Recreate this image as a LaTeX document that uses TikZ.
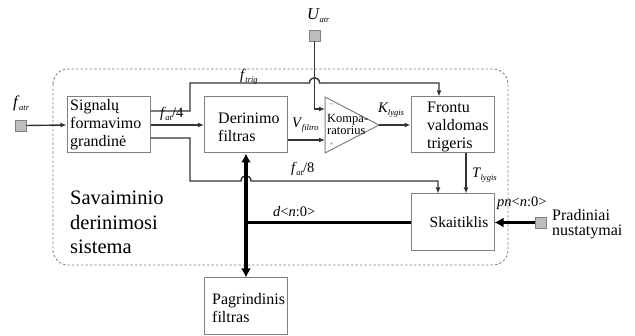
\documentclass[tikz,border=0pt]{standalone}
\usepackage{fontspec}
\setmainfont{Liberation Serif}
\usetikzlibrary{arrows.meta}
\definecolor{ln}{HTML}{333333}
\definecolor{bx}{HTML}{808080}
\definecolor{sq}{HTML}{BDBDBD}
\newcommand\sbs[2]{\textit{#1}\kern-0.5pt\raisebox{-3pt}{\fontsize{8.5}{8.5}\selectfont\textit{#2}}}
\begin{document}
\begin{tikzpicture}[x=1pt,y=-1pt,
  box/.style={draw=bx, line width=1pt, fill=white, minimum width=83pt, minimum height=56pt, inner sep=0pt},
  btxt/.style={inner sep=0pt, align=left, font=\fontsize{16}{18}\selectfont, anchor=west},
  sqr/.style={draw=bx, fill=sq, minimum size=11pt, inner sep=0pt, line width=0.8pt},
  wire/.style={draw=ln, line width=1.4pt},
  arr/.style={-{Latex[length=6pt,width=5pt]}},
  bus/.style={draw=black, line width=3.5pt},
  lab/.style={inner sep=0pt, font=\fontsize{14.5}{14.5}\selectfont, anchor=base west}]
\useasboundingbox (0,0) rectangle (635,336);
% frame
\draw[bx, dash pattern=on 2.5pt off 2pt, line width=0.9pt, rounded corners=15pt] (53,69) rectangle (508,265);
% boxes
\node[box] (sig) at (108.5,125) {};
\node[btxt] (sigt) at (70,125) {Signalų\\formavimo\\grandinė};
\node[box] (der) at (246,125) {};
\node[btxt] (dert) at (218,127) {Derinimo\\filtras};
\node[box] (fro) at (452.5,125) {};
\node[btxt] (frot) at (427,127) {Frontu\\valdomas\\trigeris};
\node[box, minimum height=57pt] (ska) at (452.5,222.5) {};
\node[inner sep=0pt, font=\fontsize{15.5}{18}\selectfont] (skat) at (459,222) {Skaitiklis};
\node[box, minimum height=57pt] (pag) at (246,306.5) {};
\node[btxt] (pagt) at (212,308) {Pagrindinis\\filtras};
% comparator
\coordinate (cA) at (325,97);
\coordinate (cB) at (325,153);
\coordinate (cT) at (379,125);
\coordinate (cminus) at (325,109);
\coordinate (cplus) at (325,140);
\draw[bx, line width=1pt, fill=white] (cA) -- (cT) -- (cB) -- cycle;
\node[inner sep=0pt, font=\fontsize{9}{9}\selectfont, text=bx] (mn) at (331.5,105) {–};
\node[inner sep=0pt, font=\fontsize{8}{8}\selectfont, text=bx] (pl) at (331.5,144) {+};
\node[inner sep=0pt, align=left, font=\fontsize{12.5}{11.5}\selectfont, anchor=west] (cmt) at (327,124.5) {Kompa-\\ratorius};
% squares
\node[sqr] (fin) at (20.5,125.5) {};
\node[sqr] (uin) at (314.5,35.5) {};
\node[sqr] (pin) at (540.5,222.5) {};
% connectors
\draw[wire,arr] (fin.east) -- (sig.west);
\draw[wire,arr] (uin.south) -- (uin.south |- cminus) -- (cminus);
\coordinate (ftr) at (439,83);
\draw[wire,arr] (sig.east |- 0,111) -- (190,111) -- (190,83) -- (309.5,83) .. controls (309.5,76) and (319.5,76) .. (319.5,83) -- (ftr) -- (ftr |- fro.north);
\draw[wire,arr] (sig.east) -- (der.west);
\coordinate (f8) at (438,181);
\draw[wire,arr] (sig.east |- 0,138) -- (190,138) -- (190,181) -- (241,181) .. controls (241,174) and (251,174) .. (251,181) -- (f8) -- (f8 |- ska.north);
\draw[wire,arr] (der.east |- cplus) -- (cplus);
\draw[wire,arr] (cT) -- (fro.west |- cT);
\coordinate (tx) at (466,0);
\draw[wire,arr] (fro.south -| tx) -- (ska.north -| tx);
\draw[bus, {Latex[length=9pt,width=10pt]}-{Latex[length=9pt,width=10pt]}] (der.south) -- (pag.north);
\draw[bus] (ska.west) -- (der.south |- ska.west);
\draw[bus, -{Latex[length=9pt,width=10pt]}] (pin.west) -- (ska.east);
% labels
\node[lab, font=\fontsize{16.5}{16.5}\selectfont] (lfa) at (13,108) {\sbs{f}{atr}};
\node[lab, font=\fontsize{16.5}{16.5}\selectfont] (lua) at (307,20) {\sbs{U}{atr}};
\node[lab] (lft) at (240,80) {\sbs{f}{trig}};
\node[lab] (lf4) at (160,118) {\sbs{f}{at}/4};
\node[lab] (lf8) at (291,173) {\sbs{f}{at}/8};
\node[lab] (lvf) at (292,128) {\sbs{V}{filtro}};
\node[lab] (lkl) at (378,113) {\sbs{K}{lygis}};
\node[lab] (ltl) at (472,178) {\sbs{T}{lygis}};
\node[lab] (ld) at (273,217) {\textit{d}<\textit{n}:0>};
\node[lab] (lpn) at (497,207) {\textit{pn}<\textit{n}:0>};
\node[inner sep=0pt, align=left, font=\fontsize{16}{14.5}\selectfont, anchor=west] (prad) at (552,224) {Pradiniai\\nustatymai};
\node[inner sep=0pt, align=left, font=\fontsize{20.5}{24.5}\selectfont, anchor=west] (sav) at (70,222.5) {Savaiminio\\derinimosi\\sistema};
\end{tikzpicture}
\end{document}
